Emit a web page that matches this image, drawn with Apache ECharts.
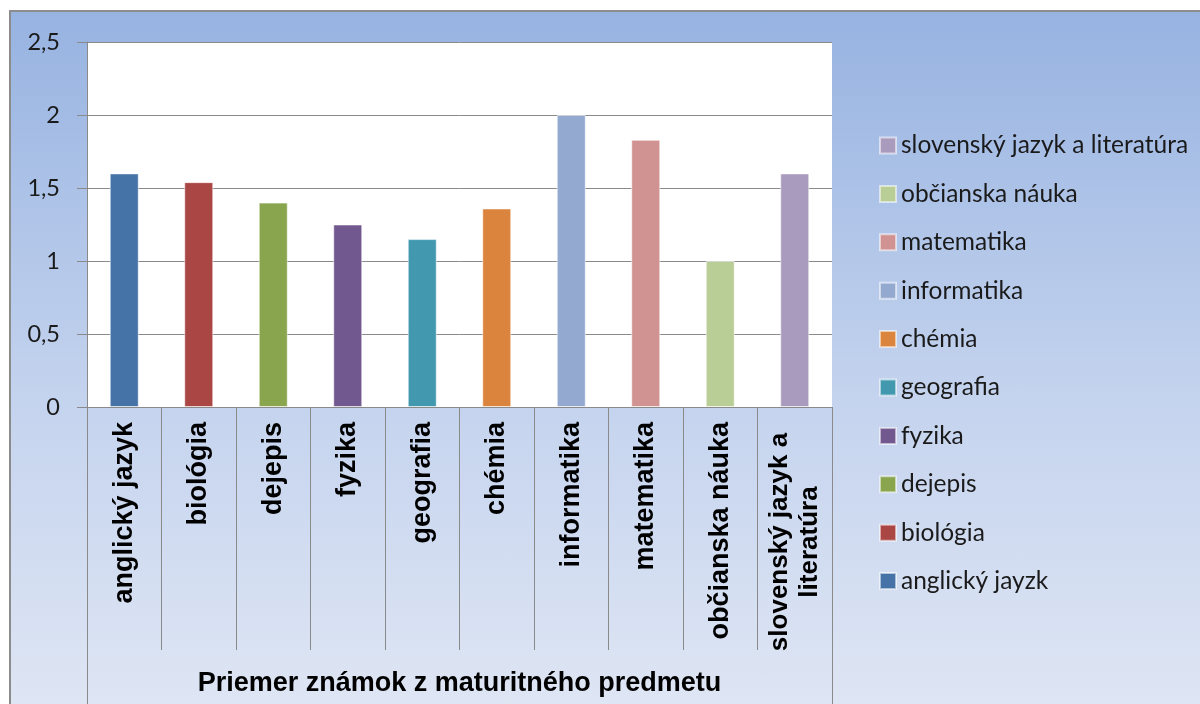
<!DOCTYPE html>
<html>
<head>
<meta charset="utf-8">
<script src="https://cdn.jsdelivr.net/npm/echarts@6/dist/echarts.min.js"></script>
<style>
    * {margin: 0; padding: 0;}
    body {width: 1200px; height: 704px; background: #fff; position: relative; overflow: hidden;}
    #box {
        position: absolute; left: 9px; top: 10px; width: 1200px; height: 700px;
        border-left: 2px solid #8c8c8c; border-top: 2px solid #8c8c8c;
        background: linear-gradient(to bottom, #97b3e1 0%, #c4d3ee 55%, #dfe6f4 100%);
    }
    #main {position: absolute; left: 0; top: 0; width: 1200px; height: 704px;}
</style>
</head>
<body>
<div id="box"></div>
<div id="main"></div>
<script type="text/javascript">
// 科目（x 轴分类）
const SUBJECTS = [
    'anglický jazyk', 'biológia', 'dejepis', 'fyzika', 'geografia',
    'chémia', 'informatika', 'matematika', 'občianska náuka', 'slovenský jazyk a\nliteratúra'
];
// 图例名称（原图里 "jayzk" 就是这么写的）
const LEGEND_NAMES = [
    'anglický jayzk', 'biológia', 'dejepis', 'fyzika', 'geografia',
    'chémia', 'informatika', 'matematika', 'občianska náuka', 'slovenský jazyk a literatúra'
];
const AVERAGES = [1.6, 1.54, 1.4, 1.25, 1.15, 1.36, 2.0, 1.83, 1.0, 1.6];
const COLORS = [
    '#4572a7', '#aa4643', '#89a54e', '#71588f', '#4198af',
    '#db843d', '#93a9cf', '#d19392', '#b9cd96', '#a99bbd'
];
const Y_TICKS = [0, 0.5, 1, 1.5, 2, 2.5];
const GROUP_TITLE = ['Priemer známok z maturitného predmetu'];

const LABEL_FONT = 'Lato, "Open Sans", sans-serif';
const BOLD_FONT = '"Liberation Sans", Arial, sans-serif';

window.onload = function () {
    const chart = echarts.init(document.getElementById('main'), null, {renderer: 'canvas'});

    // 每个科目一个系列，叠在同一根柱子位置上，这样图例才能一一对应
    const series = SUBJECTS.map((s, i) => ({
        name: LEGEND_NAMES[i],
        type: 'bar',
        stack: 'all',
        barWidth: 29,
        itemStyle: {
            color: COLORS[i],
            borderColor: 'rgba(255,255,255,0.55)',
            borderWidth: 1
        },
        emphasis: {disabled: true},
        data: AVERAGES.map((v, j) => (j === i ? v : null))
    }));

    const lineColor = '#8a8a8a';

    chart.setOption({
        backgroundColor: 'transparent',
        animation: false,
        grid: {
            left: 87,
            right: 368,
            top: 42,
            bottom: 297,
            show: true,
            backgroundColor: '#ffffff',
            borderWidth: 0
        },
        legend: {
            orient: 'vertical',
            left: 874,
            top: 128,
            itemWidth: 16,
            itemHeight: 16,
            itemGap: 23.4,
            icon: 'rect',
            selectedMode: false,
            data: LEGEND_NAMES.slice().reverse(),
            textStyle: {
                fontFamily: LABEL_FONT,
                fontSize: 24.5,
                lineHeight: 24,
                color: '#1a1a1a'
            }
        },
        xAxis: [
            {
                type: 'category',
                position: 'bottom',
                data: SUBJECTS,
                axisLine: {show: true, lineStyle: {color: lineColor, width: 1}},
                axisTick: {
                    show: true,
                    interval: 0,
                    length: 243,
                    lineStyle: {color: lineColor, width: 1}
                },
                axisLabel: {
                    interval: 0,
                    rotate: 90,
                    margin: 15,
                    color: '#000',
                    fontFamily: BOLD_FONT,
                    fontWeight: 'bold',
                    fontSize: 27,
                    formatter: function (val) {
                        const parts = val.split('\n');
                        if (parts.length === 1) {
                            return val;
                        }
                        return parts.map(p => '{c|' + p + '}').join('\n');
                    },
                    rich: {
                        c: {
                            width: 240,
                            align: 'center',
                            fontFamily: BOLD_FONT,
                            fontWeight: 'bold',
                            fontSize: 26,
                            lineHeight: 30,
                            color: '#000'
                        }
                    }
                }
            },
            {
                // 外层分组标签
                type: 'category',
                position: 'bottom',
                data: GROUP_TITLE,
                axisLine: {show: false},
                axisTick: {
                    show: true,
                    interval: 0,
                    length: 297,
                    lineStyle: {color: lineColor, width: 1}
                },
                axisLabel: {
                    margin: 263,
                    color: '#000',
                    fontFamily: BOLD_FONT,
                    fontWeight: 'bold',
                    fontSize: 27
                }
            }
        ],
        yAxis: {
            type: 'value',
            min: Y_TICKS[0],
            max: Y_TICKS[Y_TICKS.length - 1],
            interval: 0.5,
            axisLine: {show: true, lineStyle: {color: lineColor, width: 1}},
            axisTick: {show: true, length: 10, lineStyle: {color: lineColor}},
            splitLine: {show: true, lineStyle: {color: lineColor, width: 1}},
            axisLabel: {
                margin: 27,
                color: '#1a1a1a',
                fontFamily: LABEL_FONT,
                fontSize: 23.5,
                formatter: v => String(v).replace('.', ',')
            }
        },
        series: series
    });
};
</script>
</body>
</html>
